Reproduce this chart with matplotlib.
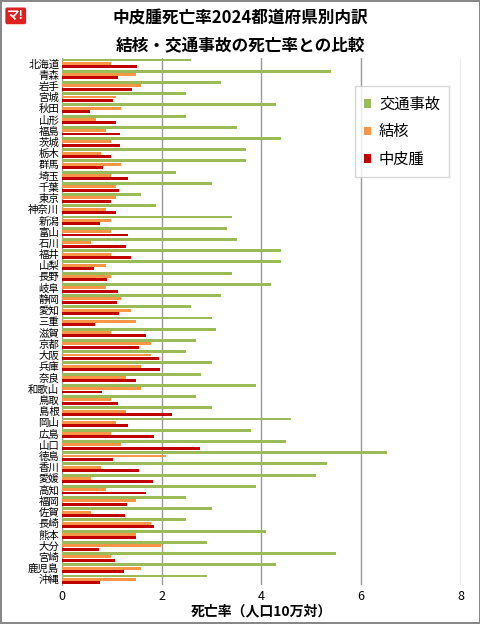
import matplotlib
matplotlib.use("Agg")
import matplotlib.pyplot as plt
import numpy as np

plt.rcParams['font.family'] = ['Noto Sans CJK JP', 'DejaVu Sans']

prefs = ["北海道","青森","岩手","宮城","秋田","山形","福島","茨城","栃木","群馬","埼玉","千葉","東京","神奈川",
         "新潟","富山","石川","福井","山梨","長野","岐阜","静岡","愛知","三重","滋賀","京都","大阪","兵庫","奈良",
         "和歌山","鳥取","島根","岡山","広島","山口","徳島","香川","愛媛","高知","福岡","佐賀","長崎","熊本","大分",
         "宮崎","鹿児島","沖縄"]
traffic = [2.59,5.39,3.19,2.49,4.29,2.49,3.5,4.39,3.69,3.69,2.29,3.0,1.59,1.89,
           3.4,3.3,3.5,4.39,4.39,3.4,4.2,3.19,2.59,3.0,3.09,2.69,2.49,3.0,2.79,
           3.89,2.69,3.0,4.6,3.79,4.49,6.51,5.31,5.1,3.89,2.49,3.0,2.49,4.1,2.9,
           5.49,4.29,2.9]
tb = [0.99,1.49,1.59,1.09,1.19,0.69,0.89,0.99,0.79,1.19,0.99,1.09,1.09,0.89,
      0.99,0.99,0.59,0.99,0.89,0.99,0.89,1.19,1.39,1.49,0.99,1.79,1.79,1.59,1.29,
      1.59,0.99,1.29,1.09,0.99,1.19,2.09,0.79,0.59,0.89,1.49,0.59,1.79,1.49,1.99,
      0.99,1.59,1.49]
meso = [1.51,1.13,1.41,1.03,0.56,1.09,1.16,1.17,0.98,0.83,1.33,1.15,0.99,1.09,
        0.77,1.33,1.29,1.38,0.65,0.91,1.13,1.11,1.15,0.67,1.69,1.55,1.95,1.96,1.49,
        0.81,1.13,2.21,1.33,1.84,2.77,1.03,1.55,1.83,1.69,1.30,1.27,1.85,1.49,0.74,
        1.07,1.25,0.77]

fig = plt.figure(figsize=(4.81, 6.24), dpi=100)
fig.patch.set_edgecolor('#888888'); fig.patch.set_linewidth(1.5)
ax = fig.add_axes([0.129, 0.0625, 0.829, 0.845])
n = len(prefs)
y = np.arange(n)
h = 0.3
ax.barh(y - h, traffic, height=0.26, color='#9BBB59', label='交通事故', zorder=3)
ax.barh(y, tb, height=0.26, color='#F79646', label='結核', zorder=3)
ax.barh(y + h, meso, height=0.26, color='#C00000', label='中皮腫', zorder=3)
ax.set_ylim(n - 0.5, -0.5)
ax.set_xlim(0, 8)
ax.set_xticks([0, 2, 4, 6, 8])
ax.set_yticks(y)
ax.set_yticklabels(prefs, fontsize=7.5)
ax.tick_params(axis='y', length=0, pad=2)
ax.tick_params(axis='x', length=0, labelsize=9)
ax.grid(axis='x', color='#999999', linewidth=1, zorder=0)
for s in ['top', 'right', 'bottom']:
    ax.spines[s].set_visible(False)
ax.spines['left'].set_color('#999999')
ax.set_xlabel('死亡率（人口10万対）', fontsize=10, fontweight='bold', labelpad=1)
leg = ax.legend(loc='upper right', bbox_to_anchor=(0.99, 0.96), fontsize=11, frameon=True,
                fancybox=False, edgecolor='#cccccc', handlelength=0.5, handleheight=0.5,
                handletextpad=0.5, labelspacing=0.7, borderpad=0.6)
fig.text(0.5, 0.972, '中皮腫死亡率2024都道府県別内訳', ha='center', va='center', fontsize=12, fontweight='bold')
fig.text(0.5, 0.928, '結核・交通事故の死亡率との比較', ha='center', va='center', fontsize=12, fontweight='bold')
fig.text(0.015, 0.985, 'マ!', ha='left', va='top', fontsize=9, fontweight='bold', color='white',
         bbox=dict(facecolor='#E02020', edgecolor='none', boxstyle='round,pad=0.15'))
fig.savefig('out.png', dpi=100, edgecolor=fig.get_edgecolor())
